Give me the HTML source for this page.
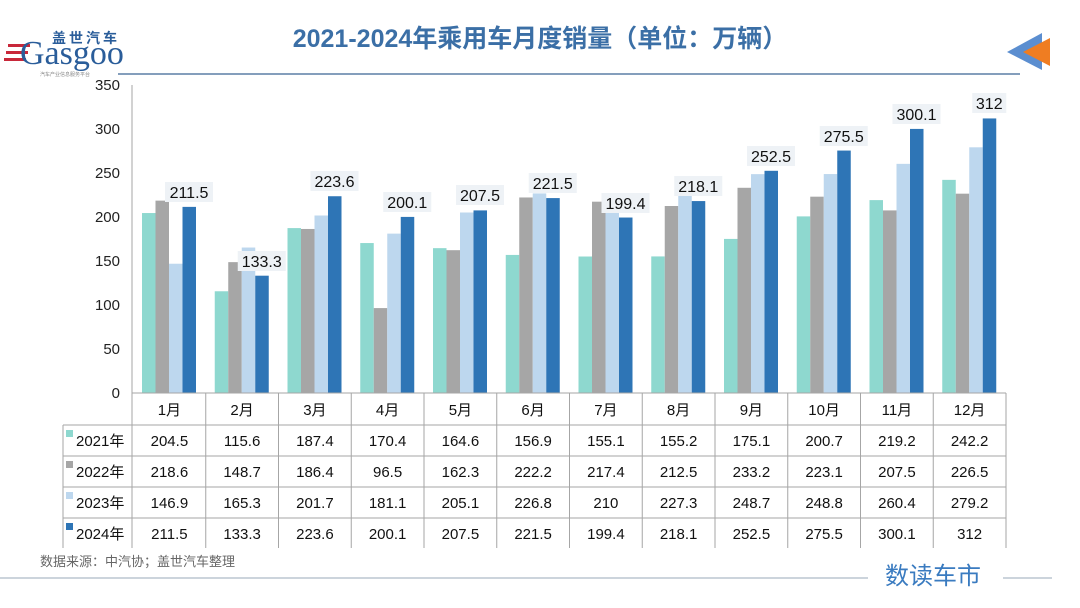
<!DOCTYPE html>
<html><head><meta charset="utf-8"><style>
body{margin:0;background:#fff}
svg{display:block;font-family:"Liberation Sans","Noto Sans CJK SC",sans-serif}
</style></head><body>
<svg id="s" width="1080" height="608" viewBox="0 0 1080 608">
<rect width="1080" height="608" fill="#fff"/>
<!-- logo -->
<g>
<text x="52" y="43" font-size="14" font-weight="bold" fill="#2a5d9a" letter-spacing="3">盖世汽车</text>
<rect x="8" y="44" width="22" height="3" fill="#c8283a"/><rect x="6" y="51" width="22" height="3" fill="#c8283a"/><rect x="4" y="58" width="22" height="3" fill="#c8283a"/>
<text x="20" y="64" font-size="34" fill="#2a5d9a" font-family="Liberation Serif,serif">Gasgoo</text>
<text x="40" y="76" font-size="5" fill="#888">汽车产业信息服务平台</text>
</g>
<text x="540" y="47" text-anchor="middle" font-size="25" font-weight="bold" fill="#3b6fa6">2021-2024年乘用车月度销量（单位：万辆）</text>
<line x1="118" y1="74" x2="1020" y2="74" stroke="#5b7fa6" stroke-width="1.5"/>
<polygon points="1007,52 1042,33 1042,70" fill="#5b8ed0"/>
<polygon points="1023,52 1050,38 1050,66" fill="#ef7d22"/>
<!-- y axis -->
<line x1="132" y1="85" x2="132" y2="548" stroke="#a6a6a6"/>
<g font-size="15" fill="#222" text-anchor="end">
<text x="120" y="90">350</text><text x="120" y="134">300</text><text x="120" y="178">250</text><text x="120" y="222">200</text><text x="120" y="266">150</text><text x="120" y="310">100</text><text x="120" y="354">50</text><text x="120" y="398">0</text>
</g>
<g id="bars"></g>
<!-- labels -->
<g font-size="16" fill="#111" text-anchor="middle">
<rect x="165" y="182" width="48" height="20" fill="#eef2f6"/><text x="189" y="198">211.5</text>
<rect x="237.75" y="251" width="48" height="20" fill="#eef2f6"/><text x="261.75" y="267">133.3</text>
<rect x="310.5" y="171" width="48" height="20" fill="#eef2f6"/><text x="334.5" y="187">223.6</text>
<rect x="383.25" y="192" width="48" height="20" fill="#eef2f6"/><text x="407.25" y="208">200.1</text>
<rect x="456" y="185" width="48" height="20" fill="#eef2f6"/><text x="480" y="201">207.5</text>
<rect x="528.75" y="173" width="48" height="20" fill="#eef2f6"/><text x="552.75" y="189">221.5</text>
<rect x="601.5" y="193" width="48" height="20" fill="#eef2f6"/><text x="625.5" y="209">199.4</text>
<rect x="674.25" y="176" width="48" height="20" fill="#eef2f6"/><text x="698.25" y="192">218.1</text>
<rect x="747" y="146" width="48" height="20" fill="#eef2f6"/><text x="771" y="162">252.5</text>
<rect x="819.75" y="126" width="48" height="20" fill="#eef2f6"/><text x="843.75" y="142">275.5</text>
<rect x="892.5" y="104" width="48" height="20" fill="#eef2f6"/><text x="916.5" y="120">300.1</text>
<rect x="972.25" y="93" width="34" height="20" fill="#eef2f6"/><text x="989.25" y="109">312</text>
</g>
<!-- table grid -->
<g stroke="#a6a6a6" stroke-width="1">
<line x1="132" y1="393" x2="1006" y2="393"/>
<line x1="63" y1="425" x2="1006" y2="425"/>
<line x1="63" y1="456" x2="1006" y2="456"/>
<line x1="63" y1="487" x2="1006" y2="487"/>
<line x1="63" y1="518" x2="1006" y2="518"/>
<line x1="63" y1="425" x2="63" y2="548"/>
<g id="vl"></g>
</g>
<rect x="66" y="430" width="7" height="7" fill="#8ed8cf"/>
<rect x="66" y="461" width="7" height="7" fill="#a6a6a6"/>
<rect x="66" y="492" width="7" height="7" fill="#bdd7ee"/>
<rect x="66" y="523" width="7" height="7" fill="#2e75b6"/>
<g font-size="15" fill="#111">
<text x="76" y="446">2021年</text><text x="76" y="477">2022年</text><text x="76" y="508">2023年</text><text x="76" y="539">2024年</text>
</g>
<g font-size="15" fill="#111" text-anchor="middle">
<g transform="translate(0,415)"><text x="169.4">1月</text><text x="242.1">2月</text><text x="314.9">3月</text><text x="387.6">4月</text><text x="460.4">5月</text><text x="533.1">6月</text><text x="605.9">7月</text><text x="678.6">8月</text><text x="751.4">9月</text><text x="824.1">10月</text><text x="896.9">11月</text><text x="969.6">12月</text></g>
<g transform="translate(0,446)"><text x="169.4">204.5</text><text x="242.1">115.6</text><text x="314.9">187.4</text><text x="387.6">170.4</text><text x="460.4">164.6</text><text x="533.1">156.9</text><text x="605.9">155.1</text><text x="678.6">155.2</text><text x="751.4">175.1</text><text x="824.1">200.7</text><text x="896.9">219.2</text><text x="969.6">242.2</text></g>
<g transform="translate(0,477)"><text x="169.4">218.6</text><text x="242.1">148.7</text><text x="314.9">186.4</text><text x="387.6">96.5</text><text x="460.4">162.3</text><text x="533.1">222.2</text><text x="605.9">217.4</text><text x="678.6">212.5</text><text x="751.4">233.2</text><text x="824.1">223.1</text><text x="896.9">207.5</text><text x="969.6">226.5</text></g>
<g transform="translate(0,508)"><text x="169.4">146.9</text><text x="242.1">165.3</text><text x="314.9">201.7</text><text x="387.6">181.1</text><text x="460.4">205.1</text><text x="533.1">226.8</text><text x="605.9">210</text><text x="678.6">227.3</text><text x="751.4">248.7</text><text x="824.1">248.8</text><text x="896.9">260.4</text><text x="969.6">279.2</text></g>
<g transform="translate(0,539)"><text x="169.4">211.5</text><text x="242.1">133.3</text><text x="314.9">223.6</text><text x="387.6">200.1</text><text x="460.4">207.5</text><text x="533.1">221.5</text><text x="605.9">199.4</text><text x="678.6">218.1</text><text x="751.4">252.5</text><text x="824.1">275.5</text><text x="896.9">300.1</text><text x="969.6">312</text></g>
</g>
<text x="40" y="566" font-size="13" fill="#666">数据来源：中汽协；盖世汽车整理</text>
<line x1="0" y1="578" x2="868" y2="578" stroke="#9aa8b8"/>
<line x1="1003" y1="578" x2="1052" y2="578" stroke="#9aa8b8"/>
<text x="885" y="584" font-size="24" fill="#3a7bc0">数读车市</text>
</svg>
<script>
var d=[[204.5,115.6,187.4,170.4,164.6,156.9,155.1,155.2,175.1,200.7,219.2,242.2],[218.6,148.7,186.4,96.5,162.3,222.2,217.4,212.5,233.2,223.1,207.5,226.5],[146.9,165.3,201.7,181.1,205.1,226.8,210,227.3,248.7,248.8,260.4,279.2],[211.5,133.3,223.6,200.1,207.5,221.5,199.4,218.1,252.5,275.5,300.1,312]];
var c=["#8ed8cf","#a6a6a6","#bdd7ee","#2e75b6"],ns="http://www.w3.org/2000/svg",g=document.getElementById("bars"),vl=document.getElementById("vl");
for(var i=0;i<12;i++){var L=133+72.75*i;for(var k=0;k<4;k++){var r=document.createElementNS(ns,"rect"),h=d[k][i]*0.88;r.setAttribute("x",L+9+k*13.5);r.setAttribute("y",393-h);r.setAttribute("width",13.5);r.setAttribute("height",h);r.setAttribute("fill",c[k]);g.appendChild(r);}
var l=document.createElementNS(ns,"line");l.setAttribute("x1",L+72.75);l.setAttribute("x2",L+72.75);l.setAttribute("y1",393);l.setAttribute("y2",548);vl.appendChild(l);}
</script>
</body></html>
